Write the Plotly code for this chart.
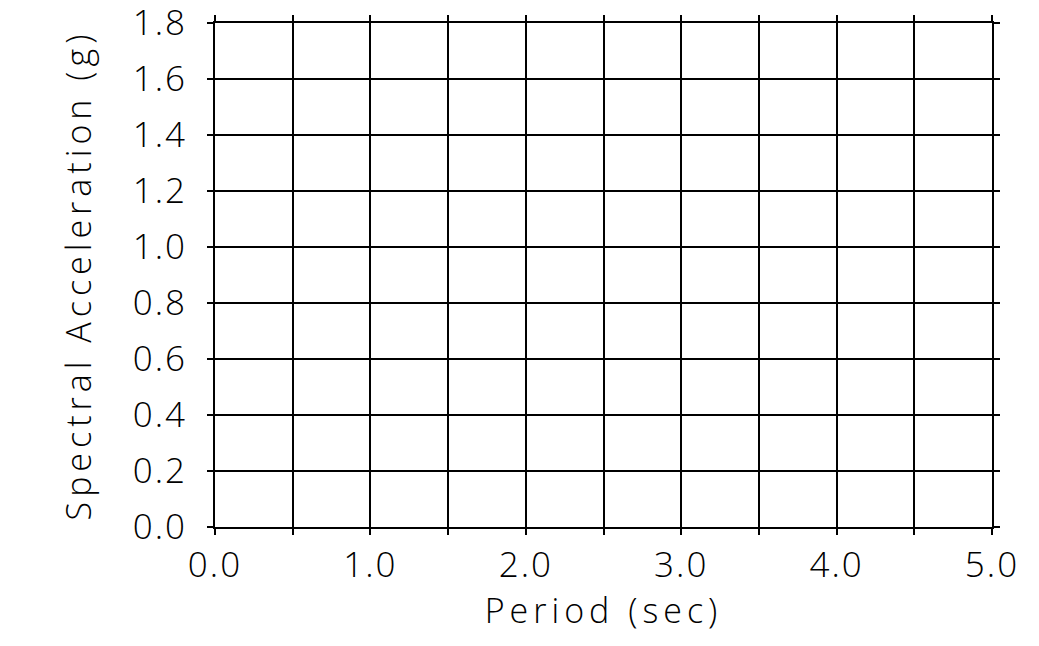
import plotly.graph_objects as go

# Axis ticks / labels (empty response-spectrum frame)
period_ticks = [0.0, 0.5, 1.0, 1.5, 2.0, 2.5, 3.0, 3.5, 4.0, 4.5, 5.0]
period_labels = ["0.0", "", "1.0", "", "2.0", "", "3.0", "", "4.0", "", "5.0"]
accel_ticks = [0.0, 0.2, 0.4, 0.6, 0.8, 1.0, 1.2, 1.4, 1.6, 1.8]
accel_labels = ["0.0", "0.2", "0.4", "0.6", "0.8", "1.0", "1.2", "1.4", "1.6", "1.8"]

FONT = dict(family="Open Sans, DejaVu Sans", size=34, color="black", weight=300)
TICK_FONT = dict(FONT, size=35)


def spaced(text, px):
    # wide plotter-style lettering
    return f'<span style="letter-spacing:{px}px">{text}</span>'


fig = go.Figure()

axis_style = dict(
    showgrid=True,
    gridcolor="black",
    gridwidth=1.8,
    showline=True,
    linecolor="black",
    linewidth=2,
    mirror="ticks",
    ticks="outside",
    ticklen=6,
    tickwidth=1.8,
    tickcolor="black",
    zeroline=False,
    automargin=False,
    ticklabeloverflow="allow",
    tickfont=TICK_FONT,
)

fig.update_xaxes(
    range=[0, 5],
    tickmode="array",
    tickvals=period_ticks,
    ticktext=[spaced(t, 2) if t else t for t in period_labels],
    title=dict(text=spaced("Period (sec)", 5), font=FONT, standoff=0),
    ticklabelstandoff=0,
    **axis_style,
)
fig.update_yaxes(
    range=[0, 1.8],
    tickmode="array",
    tickvals=accel_ticks,
    ticktext=[spaced(t, 2) for t in accel_labels],
    title=dict(text=spaced("Spectral Acceleration (g)", 5), font=FONT, standoff=31),
    ticklabelstandoff=13,
    **axis_style,
)

fig.update_layout(
    width=1039,
    height=646,
    margin=dict(l=215, r=47, t=23, b=119),
    plot_bgcolor="white",
    paper_bgcolor="white",
    showlegend=False,
)

# drop the default page margin so the figure sits at the window corner
fig.write_html(
    "out.html",
    config={"displayModeBar": False},
    post_script="document.body.style.margin='0px';",
)
